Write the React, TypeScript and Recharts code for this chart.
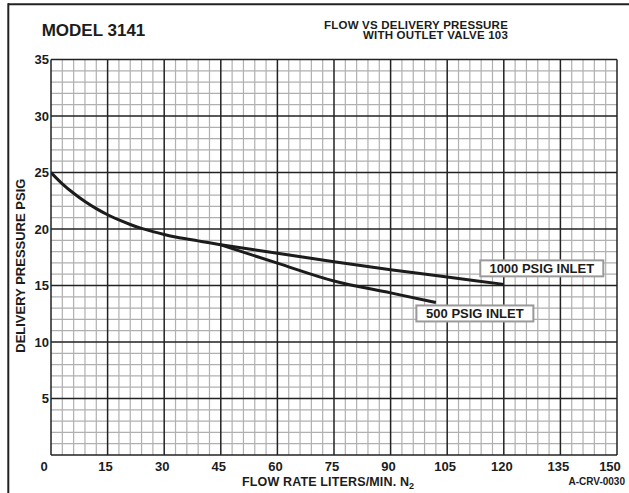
import React from "react";
import { LineChart, Line, XAxis, YAxis, ReferenceLine } from "recharts";

// flow rate (liters/min N2) vs delivery pressure (psig)
const commonFlow = [0, 3, 6, 9, 12, 15, 18, 21, 24, 27, 30, 33, 36, 39, 42, 45];
const commonPressure = [25, 24.0, 23.16, 22.43, 21.8, 21.26, 20.8, 20.4, 20.06, 19.77, 19.52, 19.3, 19.12, 18.95, 18.78, 18.6];

const flow1000 = [45, 60, 75, 90, 105, 120];
const pressure1000 = [18.6, 17.85, 17.1, 16.4, 15.75, 15.1];

const flow500 = [45, 60, 75, 90, 102];
const pressure500 = [18.6, 16.98, 15.4, 14.35, 13.5];

const xTicks = [0, 15, 30, 45, 60, 75, 90, 105, 120, 135, 150];
const yTicks = [5, 10, 15, 20, 25, 30, 35];

const toRows = (xs: number[], ys: number[]) => xs.map((x, i) => ({ x, y: ys[i] }));
const commonData = toRows(commonFlow, commonPressure);
const data1000 = toRows(flow1000, pressure1000);
const data500 = toRows(flow500, pressure500);

// grid lines: minor every 3 lpm / 1 psig, major every 15 lpm / 5 psig
const minorX = Array.from({ length: 51 }, (_, i) => i * 3).filter((v) => v % 15 !== 0);
const minorY = Array.from({ length: 36 }, (_, i) => i).filter((v) => v % 5 !== 0);
const majorY = [0, ...yTicks];

const FONT = "'Liberation Sans', Arial, Helvetica, sans-serif";
const INK = "#1c1c1c";

const XTick = (props: any) => {
  const { x, payload } = props;
  const v = payload.value;
  const dx = v === 0 || v === 150 ? -7 : -2;
  return (
    <text x={x + dx} y={471} textAnchor="middle" fontFamily={FONT} fontWeight="bold" fontSize={13} fill={INK}>
      {v}
    </text>
  );
};

const YTick = (props: any) => {
  const { y, payload } = props;
  return (
    <text x={49} y={y + 4.6} textAnchor="end" fontFamily={FONT} fontWeight="bold" fontSize={13} fill={INK}>
      {payload.value}
    </text>
  );
};

const makeTag = (text: string, count: number, dx: number, dy: number, w: number) => (props: any) => {
  const { x, y, index } = props;
  if (index !== count - 1) return null;
  const cx = x + dx;
  const cy = y + dy;
  return (
    <g>
      <rect x={cx - w / 2} y={cy - 8} width={w} height={16} fill="#fff" stroke="#9a9a9a" strokeWidth={2} />
      <text x={cx} y={cy + 4.6} textAnchor="middle" fontFamily={FONT} fontWeight="bold" fontSize={13} fill={INK}>
        {text}
      </text>
    </g>
  );
};

export default function App() {
  return (
    <div style={{ position: "absolute", left: 0, top: 0, width: 629, height: 493, background: "#fff", overflow: "hidden" }}>
      <LineChart width={629} height={493} margin={{ top: 59.5, right: 12, bottom: 18, left: 0 }}>
        <XAxis
          type="number"
          dataKey="x"
          domain={[0, 150]}
          ticks={xTicks}
          height={20}
          axisLine={false}
          tickLine={false}
          tick={XTick}
          allowDataOverflow
        />
        <YAxis
          type="number"
          dataKey="y"
          domain={[0, 35]}
          ticks={yTicks}
          width={51}
          axisLine={false}
          tickLine={false}
          tick={YTick}
          allowDataOverflow
        />
        {minorX.map((v) => (
          <ReferenceLine key={"mx" + v} x={v} stroke="#b0b0b0" strokeWidth={1.2} />
        ))}
        {minorY.map((v) => (
          <ReferenceLine key={"my" + v} y={v} stroke="#b0b0b0" strokeWidth={1.2} />
        ))}
        {xTicks.map((v) => (
          <ReferenceLine key={"Mx" + v} x={v} stroke="#222" strokeWidth={1.5} />
        ))}
        {majorY.map((v) => (
          <ReferenceLine key={"My" + v} y={v} stroke="#222" strokeWidth={1.5} />
        ))}
        <Line
          data={commonData}
          dataKey="y"
          type="monotone"
          stroke={INK}
          strokeWidth={3}
          dot={false}
          isAnimationActive={false}
        />
        <Line
          data={data1000}
          dataKey="y"
          type="monotone"
          stroke={INK}
          strokeWidth={3}
          dot={false}
          isAnimationActive={false}
          label={makeTag("1000 PSIG INLET", data1000.length, 38, -16, 123)}
        />
        <Line
          data={data500}
          dataKey="y"
          type="monotone"
          stroke={INK}
          strokeWidth={3}
          dot={false}
          isAnimationActive={false}
          label={makeTag("500 PSIG INLET", data500.length, 39, 11, 117)}
        />
      </LineChart>
      <svg width={629} height={493} style={{ position: "absolute", left: 0, top: 0, pointerEvents: "none" }}>
        <line x1={8} y1={4.3} x2={629} y2={4.3} stroke="#222" strokeWidth={2} />
        <line x1={8.3} y1={3.3} x2={8.3} y2={493} stroke="#222" strokeWidth={2} />
        <text x={41.7} y={36} fontFamily={FONT} fontWeight="bold" fontSize={17} fill={INK}>
          MODEL 3141
        </text>
        <text x={508} y={28.8} textAnchor="end" fontFamily={FONT} fontWeight="bold" fontSize={11.5} letterSpacing={0.2} fill={INK}>
          FLOW VS DELIVERY PRESSURE
        </text>
        <text x={508} y={39.3} textAnchor="end" fontFamily={FONT} fontWeight="bold" fontSize={11.5} letterSpacing={0.2} fill={INK}>
          WITH OUTLET VALVE 103
        </text>
        <text
          transform="translate(25,265.7) rotate(-90)"
          textAnchor="middle"
          fontFamily={FONT}
          fontWeight="bold"
          fontSize={13}
          fill={INK}
        >
          DELIVERY PRESSURE PSIG
        </text>
        <text x={242} y={485.5} fontFamily={FONT} fontWeight="bold" fontSize={12.5} letterSpacing={0.15} fill={INK}>
          FLOW RATE LITERS/MIN. N
          <tspan fontSize={9} dy={3}>2</tspan>
        </text>
        <text x={625} y={485} textAnchor="end" fontFamily={FONT} fontWeight="bold" fontSize={10} fill={INK}>
          A-CRV-0030
        </text>
      </svg>
    </div>
  );
}
